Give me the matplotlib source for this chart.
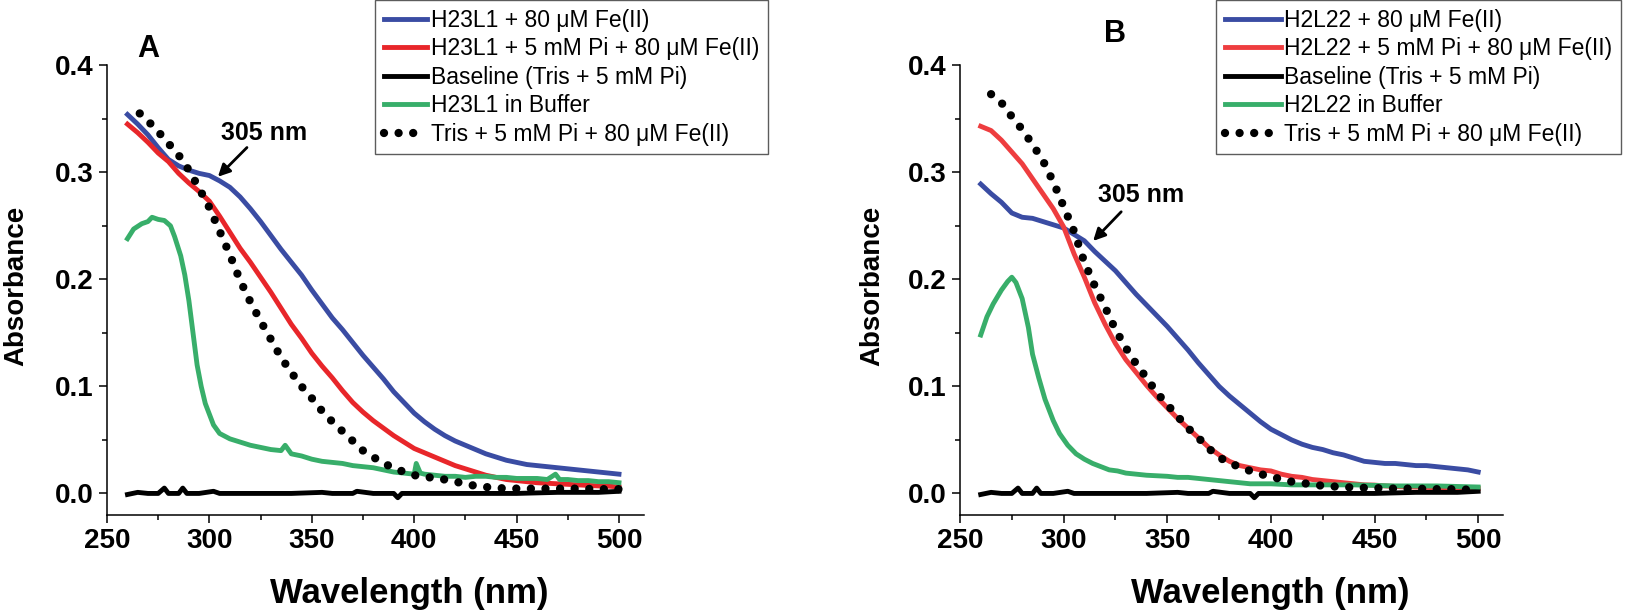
import matplotlib
matplotlib.use("Agg")
import matplotlib.pyplot as plt
from matplotlib.ticker import MultipleLocator, FormatStrFormatter

plt.rcParams['font.family'] = ['Liberation Sans', 'DejaVu Sans']

# ---- panel A data ----
wl_a = [260, 265, 270, 275, 280, 285, 290, 295, 300, 305, 310, 315, 320, 325, 330, 335, 340, 345,
        350, 355, 360, 365, 370, 375, 380, 385, 390, 395, 400, 405, 410, 415, 420, 425, 430, 435,
        440, 445, 450, 455, 460, 465, 470, 475, 480, 485, 490, 495, 500]
blue_a = [0.354, 0.345, 0.335, 0.323, 0.312, 0.306, 0.302, 0.299, 0.297, 0.292, 0.286, 0.277, 0.266,
          0.254, 0.241, 0.228, 0.216, 0.204, 0.190, 0.177, 0.164, 0.153, 0.141, 0.129, 0.118, 0.107,
          0.095, 0.085, 0.075, 0.067, 0.060, 0.054, 0.049, 0.045, 0.041, 0.037, 0.034, 0.031, 0.029,
          0.027, 0.026, 0.025, 0.024, 0.023, 0.022, 0.021, 0.020, 0.019, 0.018]
red_a = [0.345, 0.337, 0.328, 0.318, 0.310, 0.299, 0.290, 0.282, 0.273, 0.259, 0.244, 0.229, 0.216,
         0.202, 0.188, 0.173, 0.158, 0.145, 0.131, 0.119, 0.108, 0.096, 0.085, 0.076, 0.068, 0.061,
         0.054, 0.048, 0.042, 0.038, 0.034, 0.030, 0.026, 0.023, 0.020, 0.017, 0.015, 0.013, 0.012,
         0.011, 0.010, 0.0095, 0.009, 0.0085, 0.008, 0.0075, 0.007, 0.0068, 0.006]

wl_green_a = [260, 263, 267, 270, 272, 275, 278, 281, 283, 286, 288, 290, 292, 294, 296, 298, 300,
              302, 305, 310, 315, 320, 325, 330, 335, 337, 340, 345, 350, 355, 360, 365, 370, 375,
              380, 385, 390, 395, 400, 401, 403, 405, 410, 415, 420, 425, 430, 435, 440, 445, 450,
              455, 460, 465, 469, 471, 475, 480, 485, 490, 495, 500]
green_a = [0.238, 0.247, 0.252, 0.254, 0.258, 0.256, 0.255, 0.250, 0.240, 0.222, 0.204, 0.180, 0.150,
           0.120, 0.100, 0.084, 0.074, 0.064, 0.056, 0.051, 0.048, 0.045, 0.043, 0.041, 0.040, 0.045,
           0.037, 0.035, 0.032, 0.030, 0.029, 0.028, 0.026, 0.025, 0.024, 0.022, 0.020, 0.019, 0.018,
           0.028, 0.019, 0.018, 0.017, 0.016, 0.016, 0.015, 0.016, 0.016, 0.015, 0.015, 0.014, 0.014,
           0.014, 0.013, 0.018, 0.013, 0.013, 0.012, 0.012, 0.011, 0.011, 0.010]

wl_base_a = [260, 265, 270, 275, 278, 280, 285, 287, 289, 295, 302, 305, 320, 340, 355, 360, 370,
             372, 380, 390, 392, 394, 410, 430, 450, 470, 490, 500]
base_a = [-0.001, 0.001, 0.0, 0.0, 0.005, 0.0, 0.0, 0.005, 0.0, 0.0, 0.002, 0.0, 0.0, 0.0, 0.001,
          0.0, 0.0, 0.002, 0.0, 0.0, -0.004, 0.0, 0.0, 0.0, 0.0, 0.001, 0.001, 0.002]

wl_dot_a = [266, 270, 275, 280, 285, 290, 295, 300, 305, 310, 315, 320, 325, 330, 335, 340, 345, 350,
            355, 360, 365, 370, 375, 380, 385, 390, 395, 400, 405, 410, 415, 420, 425, 430, 435, 440,
            450, 460, 470, 480, 490, 500]
dot_a = [0.355, 0.348, 0.338, 0.327, 0.316, 0.302, 0.285, 0.267, 0.245, 0.223, 0.199, 0.179, 0.161,
         0.144, 0.127, 0.113, 0.100, 0.089, 0.077, 0.067, 0.058, 0.049, 0.040, 0.034, 0.028, 0.024,
         0.020, 0.017, 0.016, 0.014, 0.013, 0.011, 0.009, 0.007, 0.006, 0.005, 0.0045, 0.0045,
         0.0045, 0.0045, 0.004, 0.004]

# ---- panel B data ----
wl_b = wl_a
blue_b = [0.289, 0.280, 0.272, 0.262, 0.258, 0.257, 0.254, 0.251, 0.248, 0.242, 0.236, 0.226, 0.217,
          0.208, 0.197, 0.186, 0.176, 0.166, 0.156, 0.145, 0.134, 0.122, 0.111, 0.100, 0.091, 0.083,
          0.075, 0.067, 0.060, 0.055, 0.050, 0.046, 0.043, 0.041, 0.038, 0.036, 0.033, 0.030, 0.029,
          0.028, 0.028, 0.027, 0.026, 0.026, 0.025, 0.024, 0.023, 0.022, 0.020]
red_b = [0.343, 0.339, 0.330, 0.319, 0.308, 0.294, 0.280, 0.266, 0.249, 0.224, 0.202, 0.178, 0.158,
         0.140, 0.125, 0.113, 0.101, 0.090, 0.080, 0.070, 0.061, 0.052, 0.043, 0.036, 0.030, 0.026,
         0.024, 0.022, 0.021, 0.018, 0.016, 0.015, 0.013, 0.012, 0.011, 0.010, 0.009, 0.008, 0.0078,
         0.007, 0.0065, 0.006, 0.006, 0.0056, 0.0053, 0.005, 0.005, 0.0048, 0.0046]

wl_green_b = [260, 263, 266, 270, 273, 275, 277, 280, 283, 285, 288, 291, 295, 298, 302, 306, 310,
              314, 318, 322, 326, 330, 335, 340, 350, 355, 360, 370, 380, 390, 400, 410, 420, 440,
              460, 480, 500]
green_b = [0.148, 0.165, 0.177, 0.190, 0.198, 0.202, 0.197, 0.182, 0.155, 0.130, 0.108, 0.088, 0.068,
           0.056, 0.045, 0.037, 0.032, 0.028, 0.025, 0.022, 0.021, 0.019, 0.018, 0.017, 0.016, 0.015,
           0.015, 0.013, 0.011, 0.009, 0.009, 0.008, 0.008, 0.008, 0.007, 0.007, 0.006]

wl_base_b = wl_base_a
base_b = [-0.001, 0.001, 0.0, 0.0, 0.005, 0.0, 0.0, 0.005, 0.0, 0.0, 0.002, 0.0, 0.0, 0.0, 0.001,
          0.0, 0.0, 0.002, 0.0, 0.0, -0.004, 0.0, 0.0, 0.0, 0.0, 0.001, 0.001, 0.002]

wl_dot_b = [265, 270, 275, 280, 285, 290, 295, 300, 305, 310, 315, 320, 325, 330, 335, 340, 345, 350,
            355, 360, 365, 370, 375, 380, 385, 390, 395, 400, 405, 410, 415, 420, 430, 440, 450, 460,
            470, 480, 490, 500]
dot_b = [0.373, 0.365, 0.352, 0.340, 0.326, 0.311, 0.291, 0.268, 0.245, 0.216, 0.194, 0.174, 0.153,
         0.136, 0.121, 0.108, 0.094, 0.083, 0.072, 0.061, 0.052, 0.042, 0.034, 0.028, 0.025, 0.021,
         0.018, 0.016, 0.013, 0.011, 0.010, 0.008, 0.0065, 0.0055, 0.005, 0.0045, 0.0045, 0.004,
         0.004, 0.003]

labels_a = ["H23L1 + 80 μM Fe(II)", "H23L1 + 5 mM Pi + 80 μM Fe(II)", "Baseline (Tris + 5 mM Pi)",
            "H23L1 in Buffer", "Tris + 5 mM Pi + 80 μM Fe(II)"]
labels_b = ["H2L22 + 80 μM Fe(II)", "H2L22 + 5 mM Pi + 80 μM Fe(II)", "Baseline (Tris + 5 mM Pi)",
            "H2L22 in Buffer", "Tris + 5 mM Pi + 80 μM Fe(II)"]

BLUE = '#3A4CA3'
RED_A = '#E8262A'
RED_B = '#EE3D3F'
GREEN = '#38AE6A'

fig = plt.figure(figsize=(16.26, 6.10), dpi=100)
ax_a = fig.add_axes([0.0658, 0.156, 0.330, 0.737])
ax_b = fig.add_axes([0.5904, 0.156, 0.334, 0.737])


def draw(ax, wl, blue, red, wlg, green, wlbase, base, wld, dots, red_col, labels):
    ax.plot(wl, blue, color=BLUE, lw=3.5, label=labels[0])
    ax.plot(wl, red, color=red_col, lw=3.5, label=labels[1])
    ax.plot(wlbase, base, color='black', lw=3.5, label=labels[2])
    ax.plot(wlg, green, color=GREEN, lw=3.5, label=labels[3])
    ax.plot(wld, dots, color='black', lw=6, linestyle=(0, (0.001, 1.75)),
            dash_capstyle='round', label=labels[4])
    ax.set_xlim(250, 512)
    ax.set_ylim(-0.02, 0.4)
    ax.xaxis.set_major_locator(MultipleLocator(50))
    ax.xaxis.set_minor_locator(MultipleLocator(25))
    ax.yaxis.set_major_locator(MultipleLocator(0.1))
    ax.yaxis.set_minor_locator(MultipleLocator(0.05))
    ax.yaxis.set_major_formatter(FormatStrFormatter('%.1f'))
    for s in ['top', 'right']:
        ax.spines[s].set_visible(False)
    for s in ['left', 'bottom']:
        ax.spines[s].set_linewidth(1.1)
    ax.tick_params(which='major', direction='out', length=6, width=1.1, labelsize=20)
    ax.tick_params(which='minor', direction='out', length=3.5, width=1.1)
    for t in ax.get_xticklabels() + ax.get_yticklabels():
        t.set_fontweight('bold')
    ax.set_xlabel('Wavelength (nm)', fontsize=25, fontweight='bold')
    ax.set_ylabel('Absorbance', fontsize=20, fontweight='bold')


draw(ax_a, wl_a, blue_a, red_a, wl_green_a, green_a, wl_base_a, base_a, wl_dot_a, dot_a, RED_A, labels_a)
draw(ax_b, wl_b, blue_b, red_b, wl_green_b, green_b, wl_base_b, base_b, wl_dot_b, dot_b, RED_B, labels_b)

ax_a.xaxis.set_label_coords(0.564, -0.138)
ax_b.xaxis.set_label_coords(0.571, -0.138)
ax_a.yaxis.set_label_coords(-0.145, 0.51)
ax_b.yaxis.set_label_coords(-0.138, 0.51)

# 305 nm markers
ax_a.annotate('', xy=(303.2, 0.294), xytext=(319.3, 0.325),
              arrowprops=dict(arrowstyle='-|>', color='black', lw=2, mutation_scale=18))
ax_a.text(326.7, 0.337, '305 nm', fontsize=18, fontweight='bold', ha='center', va='center')
ax_b.annotate('', xy=(313.3, 0.234), xytext=(328.7, 0.265),
              arrowprops=dict(arrowstyle='-|>', color='black', lw=2, mutation_scale=18))
ax_b.text(337.4, 0.279, '305 nm', fontsize=18, fontweight='bold', ha='center', va='center')

fig.text(148 / 1626, 1 - 49 / 610, 'A', fontsize=22, fontweight='bold', ha='center', va='center')
fig.text(1115 / 1626, 1 - 34 / 610, 'B', fontsize=22, fontweight='bold', ha='center', va='center')

for ax, x0, hl in [(ax_a, 375, 1.9), (ax_b, 1216, 2.45)]:
    leg = ax.legend(loc='upper left', bbox_to_anchor=(x0 / 1626, 1.0), bbox_transform=fig.transFigure,
                    fontsize=16.5, frameon=True, fancybox=False, handlelength=hl, handletextpad=0.15,
                    borderpad=0.38, labelspacing=0.24, borderaxespad=0.0)
    leg.get_frame().set_edgecolor('#333333')
    leg.get_frame().set_linewidth(1.0)

fig.savefig('out.png', dpi=100)
